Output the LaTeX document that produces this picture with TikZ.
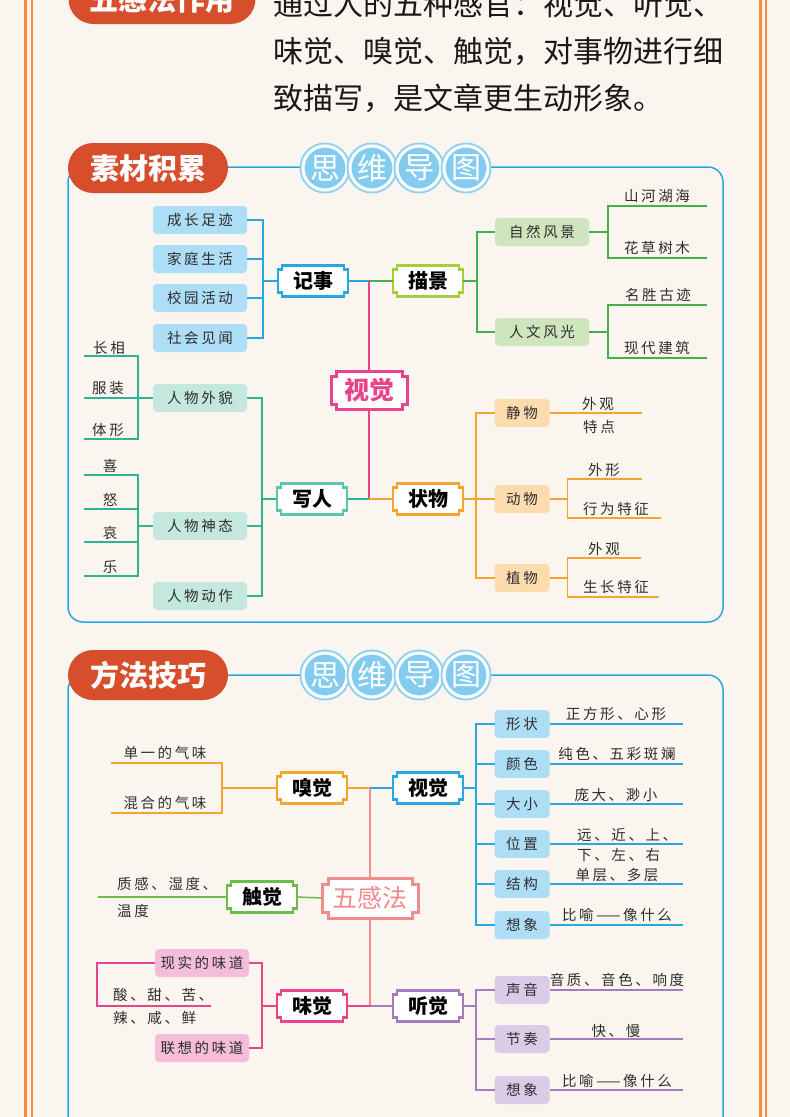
\documentclass[tikz,border=0pt]{standalone}
\usepackage{fontspec}
\setmainfont{Noto Sans CJK SC}
\newfontfamily\leaffont[LetterSpace=18]{Noto Sans CJK SC}
\usepackage{xcolor}
\usetikzlibrary{calc, backgrounds, shapes.misc}
\definecolor{pagebg}{HTML}{FBF5EF}
\definecolor{edgeorange}{HTML}{F58B3B}
\definecolor{tabred}{HTML}{D64E2B}
\definecolor{skyblue}{HTML}{29A8E0}
\definecolor{coinblue}{HTML}{84CCEF}
\definecolor{coinring}{HTML}{8ED1F1}
\definecolor{rosepink}{HTML}{E8438B}
\definecolor{limegreen}{HTML}{A6CE3A}
\definecolor{leafgreen}{HTML}{45AF4C}
\definecolor{tealgreen}{HTML}{2DB497}
\definecolor{tealrim}{HTML}{5CC4AE}
\definecolor{amber}{HTML}{F6A430}
\definecolor{salmon}{HTML}{F08C8C}
\definecolor{touchgreen}{HTML}{6CBC48}
\definecolor{lilac}{HTML}{A57DBD}
\definecolor{fillblue}{HTML}{AEDDF6}
\definecolor{fillgreen}{HTML}{CFE5BE}
\definecolor{fillteal}{HTML}{C4E7DE}
\definecolor{fillamber}{HTML}{FCDCAE}
\definecolor{fillpink}{HTML}{F5BDD9}
\definecolor{filllilac}{HTML}{DACBE7}
\definecolor{inkgray}{HTML}{2E2E2E}

\newcommand\notchpath[2]{($(#1.north west)+(#2,0)$) -- ($(#1.north east)+(-#2,0)$) -- ++(0,#2) -- ++(#2,0) -- ($(#1.south east)+(0,-#2)$) -- ++(-#2,0) -- ++(0,#2) -- ($(#1.south west)+(#2,0)$) -- ++(0,-#2) -- ++(-#2,0) -- ($(#1.north west)+(0,#2)$) -- ++(#2,0) -- cycle}

\begin{document}
\begin{tikzpicture}[x=1pt, y=-1pt,
  hub/.style={font=\fontsize{20}{20}\selectfont\bfseries, text=black, minimum width=70, minimum height=31, inner sep=0, outer sep=0},
  leaf/.style={fill=#1, rounded corners=4, font=\leaffont\fontsize{14.5}{15}\selectfont, text=inkgray, minimum width=94, minimum height=28, inner sep=0, outer sep=0},
  bud/.style={leaf=#1, minimum width=55},
  twig/.style={font=\leaffont\fontsize{14.5}{15}\selectfont, text=inkgray, inner sep=0},
  rim/.style={draw=#1, fill=white, line width=2.4},
  wire/.style={draw=#1, line width=1.5},
  banner/.style={rounded rectangle, fill=tabred, text=white, font=\fontsize{29}{29}\selectfont\bfseries, minimum width=160, minimum height=50, inner sep=0},
  coin/.style={circle, fill=coinblue, draw=white, line width=3, preaction={draw=coinring, line width=7}, minimum size=44, inner sep=0, text=white, font=\fontsize{30}{30}\selectfont}
]
\useasboundingbox (0,0) rectangle (790,1117);
\clip (0,0) rectangle (790,1117);

\draw[edgeorange, line width=3] (25,0) -- (25,1117);
\draw[edgeorange, line width=2] (32,0) -- (32,1117);
\draw[edgeorange, line width=3] (760,0) -- (760,1117);
\draw[edgeorange, line width=2] (766,0) -- (766,1117);

\node[banner, minimum width=187] (zuoyong) at (162,-1) {五感法作用};
\node[anchor=west, align=left, inner sep=0, text=black!90, font=\fontsize{30}{47}\selectfont] (intro) at (273,51)
  {通过人的五种感官：视觉、听觉、\\味觉、嗅觉、触觉，对事物进行细\\致描写，是文章更生动形象。};

\draw[skyblue, line width=1.5, rounded corners=15] (68,167) rectangle (723,622);
\draw[skyblue, line width=1.5, rounded corners=15] (68,675) rectangle (723,1150);

\node[banner] (sucai) at (148,168) {素材积累};
\node[banner] (fangfa) at (148,675) {方法技巧};
\foreach \ch [count=\i] in {思,维,导,图}{
  \node[coin] (coinA\i) at (278+47*\i,168) {\ch};
  \node[coin] (coinB\i) at (278+47*\i,675) {\ch};
}

\node[hub, font=\fontsize{25}{25}\selectfont\bfseries, text=rosepink, minimum width=76, minimum height=38] (shijue) at (369,390) {视觉};
\node[hub] (jishi) at (313,281) {记事};
\node[hub] (miaojing) at (428,281) {描景};
\node[hub] (xieren) at (312,499) {写人};
\node[hub] (zhuangwu) at (428,499) {状物};

\node[leaf=fillblue] (chengzhang) at (200,220) {成长足迹};
\node[leaf=fillblue] (jiating) at (200,259) {家庭生活};
\node[leaf=fillblue] (xiaoyuan) at (200,298) {校园活动};
\node[leaf=fillblue] (shehui) at (200,338) {社会见闻};
\node[leaf=fillgreen] (ziran) at (542,232) {自然风景};
\node[leaf=fillgreen] (renwen) at (542,332) {人文风光};
\node[leaf=fillteal] (waimao) at (200,398) {人物外貌};
\node[leaf=fillteal] (shentai) at (200,526) {人物神态};
\node[leaf=fillteal] (dongzuo) at (200,596) {人物动作};
\node[bud=fillamber] (jingwu) at (522,413) {静物};
\node[bud=fillamber] (dongwu) at (522,499) {动物};
\node[bud=fillamber] (zhiwu) at (522,578) {植物};

\node[twig] (shanhe) at (657,196) {山河湖海};
\node[twig] (huacao) at (657,248) {花草树木};
\node[twig] (mingsheng) at (658,295) {名胜古迹};
\node[twig] (xiandai) at (657,348) {现代建筑};
\coordinate (shanheR) at (707,206);
\coordinate (huacaoR) at (707,258);
\coordinate (mingshengR) at (707,305);
\coordinate (xiandaiR) at (707,358);

\node[twig] (zhangxiang) at (109,348) {长相};
\node[twig] (fuzhuang) at (108,388) {服装};
\node[twig] (tixing) at (108,430) {体形};
\node[twig] (xi) at (110,466) {喜};
\node[twig] (nu) at (110,500) {怒};
\node[twig] (ai) at (110,533) {哀};
\node[twig] (le) at (110,567) {乐};
\coordinate (zhangxiangL) at (84,356);
\coordinate (fuzhuangL) at (84,398);
\coordinate (tixingL) at (84,439);
\coordinate (xiL) at (84,475);
\coordinate (nuL) at (84,509);
\coordinate (aiL) at (84,542);
\coordinate (leL) at (84,576);

\node[twig] (waiguanA) at (598,404) {外观};
\node[twig] (tedian) at (599,427) {特点};
\node[twig] (waixing) at (604,470) {外形};
\node[twig] (xingwei) at (616,509) {行为特征};
\node[twig] (waiguanB) at (604,549) {外观};
\node[twig] (shengzhang) at (616,587) {生长特征};
\coordinate (jingwuR) at (642,413);
\coordinate (waixingR) at (642,479);
\coordinate (xingweiR) at (661,518);
\coordinate (waiguanR) at (641,558);
\coordinate (shengzhangR) at (659,597);

\draw[wire=skyblue] (jishi.east) -- (jishi.east -| shijue.north);
\draw[wire=leafgreen] (miaojing.west) -- (miaojing.west -| shijue.north);
\draw[wire=rosepink, line width=1.8] (shijue.north) -- (shijue.north |- jishi.east);
\draw[wire=rosepink, line width=1.8] (shijue.south) -- (shijue.south |- xieren.east);
\draw[wire=tealgreen] (xieren.east) -- (xieren.east -| shijue.south);
\draw[wire=amber] (zhuangwu.west) -- (zhuangwu.west -| shijue.south);

\foreach \n in {chengzhang,jiating,xiaoyuan,shehui}
  \draw[wire=skyblue] (jishi.west) -- ++(-15,0) |- (\n.east);
\foreach \n in {ziran,renwen}
  \draw[wire=leafgreen] (miaojing.east) -- ++(14,0) |- (\n.west);
\foreach \n in {shanheR,huacaoR}
  \draw[wire=leafgreen] (ziran.east) -- ++(19,0) |- (\n);
\foreach \n in {mingshengR,xiandaiR}
  \draw[wire=leafgreen] (renwen.east) -- ++(19,0) |- (\n);
\foreach \n in {waimao,shentai,dongzuo}
  \draw[wire=tealgreen] (xieren.west) -- ++(-15,0) |- (\n.east);
\foreach \n in {zhangxiangL,fuzhuangL,tixingL}
  \draw[wire=tealgreen] (waimao.west) -- ++(-15,0) |- (\n);
\foreach \n in {xiL,nuL,aiL,leL}
  \draw[wire=tealgreen] (shentai.west) -- ++(-15,0) |- (\n);
\foreach \n in {jingwu,dongwu,zhiwu}
  \draw[wire=amber] (zhuangwu.east) -- ++(13,0) |- (\n.west);
\draw[wire=amber] (jingwu.east) -- (jingwuR);
\foreach \n in {waixingR,xingweiR}
  \draw[wire=amber] (dongwu.east) -- ++(18,0) |- (\n);
\foreach \n in {waiguanR,shengzhangR}
  \draw[wire=amber] (zhiwu.east) -- ++(18,0) |- (\n);

\node[hub, font=\fontsize{25}{25}\selectfont, text=salmon, minimum width=96, minimum height=40] (wugan) at (370,898) {五感法};
\node[hub] (xiujue) at (312,788) {嗅觉};
\node[hub] (shijueB) at (428,788) {视觉};
\node[hub] (chujue) at (262,897) {触觉};
\node[hub] (weijue) at (312,1006) {味觉};
\node[hub] (tingjue) at (428,1006) {听觉};

\node[twig] (danyi) at (165,753) {单一的气味};
\node[twig] (hunhe) at (165,803) {混合的气味};
\coordinate (danyiL) at (111,763);
\coordinate (hunheL) at (111,813);
\node[twig, align=left, anchor=west, font=\leaffont\fontsize{14.5}{27}\selectfont] (zhigan) at (117,897) {质感、湿度、\\温度};
\coordinate (chujueL) at (98,897);

\node[bud=fillblue] (xingzhuang) at (522,724) {形状};
\node[bud=fillblue] (yanse) at (522,764) {颜色};
\node[bud=fillblue] (daxiao) at (522,804) {大小};
\node[bud=fillblue] (weizhi) at (522,844) {位置};
\node[bud=fillblue] (jiegou) at (522,884) {结构};
\node[bud=fillblue] (xiangxiangA) at (522,925) {想象};
\node[twig] (zhengfang) at (616,714) {正方形、心形};
\node[twig] (chunse) at (617,754) {纯色、五彩斑斓};
\node[twig] (pangda) at (616,795) {庞大、渺小};
\node[twig, align=left, anchor=west, font=\leaffont\fontsize{14.5}{20}\selectfont] (yuanjin) at (577,845) {远、近、上、\\下、左、右};
\node[twig] (danceng) at (617,875) {单层、多层};
\node[twig] (biyuA) at (617,915) {比喻——像什么};
\coordinate (rimB) at (683,0);

\node[leaf=fillpink] (xianshi) at (202,963) {现实的味道};
\node[leaf=fillpink] (lianxiang) at (202,1048) {联想的味道};
\node[twig, align=left, anchor=west, font=\leaffont\fontsize{14.5}{23}\selectfont] (suantian) at (113,1006) {酸、甜、苦、\\辣、咸、鲜};
\coordinate (suanR) at (211,1006);

\node[bud=filllilac] (shengyin) at (522,990) {声音};
\node[bud=filllilac] (jiezou) at (522,1039) {节奏};
\node[bud=filllilac] (xiangxiangB) at (522,1090) {想象};
\node[twig] (yinzhi) at (617,980) {音质、音色、响度};
\node[twig] (kuaiman) at (616,1031) {快、慢};
\node[twig] (biyuB) at (617,1081) {比喻——像什么};

\draw[wire=salmon, line width=1.8] (wugan.north) -- (wugan.north |- xiujue.east);
\draw[wire=salmon, line width=1.8] (wugan.south) -- (wugan.south |- weijue.east);
\draw[wire=amber] (xiujue.east) -- (xiujue.east -| wugan.north);
\draw[wire=skyblue] (shijueB.west) -- (shijueB.west -| wugan.north);
\draw[wire=rosepink] (weijue.east) -- (weijue.east -| wugan.south);
\draw[wire=lilac] (tingjue.west) -- (tingjue.west -| wugan.south);
\draw[wire=touchgreen] (chujue.east) -- (wugan.west);
\draw[wire=touchgreen] (chujue.west) -- (chujueL);
\foreach \n in {danyiL,hunheL}
  \draw[wire=amber] (xiujue.west) -- ++(-55,0) |- (\n);
\foreach \n in {xingzhuang,yanse,daxiao,weizhi,jiegou,xiangxiangA}{
  \draw[wire=skyblue] (shijueB.east) -- ++(13,0) |- (\n.west);
  \draw[wire=skyblue] (\n.east) -- (\n.east -| rimB);
}
\foreach \n in {xianshi,lianxiang}
  \draw[wire=rosepink] (weijue.west) -- ++(-15,0) |- (\n.east);
\draw[wire=rosepink] (xianshi.west) -- ++(-58,0) |- (suanR);
\foreach \n in {shengyin,jiezou,xiangxiangB}{
  \draw[wire=lilac] (tingjue.east) -- ++(13,0) |- (\n.west);
  \draw[wire=lilac] (\n.east) -- (\n.east -| rimB);
}

\begin{scope}[on background layer]
  \fill[pagebg] (0,0) rectangle (790,1117);
  \foreach \n/\c in {jishi/skyblue, miaojing/limegreen, xieren/tealrim, zhuangwu/amber, xiujue/amber, shijueB/skyblue, chujue/touchgreen, weijue/rosepink, tingjue/lilac}
    \draw[rim=\c] \notchpath{\n}{4};
  \draw[rim=rosepink, line width=3] \notchpath{shijue}{5};
  \draw[rim=salmon, line width=3] \notchpath{wugan}{6};
\end{scope}
\end{tikzpicture}
\end{document}
